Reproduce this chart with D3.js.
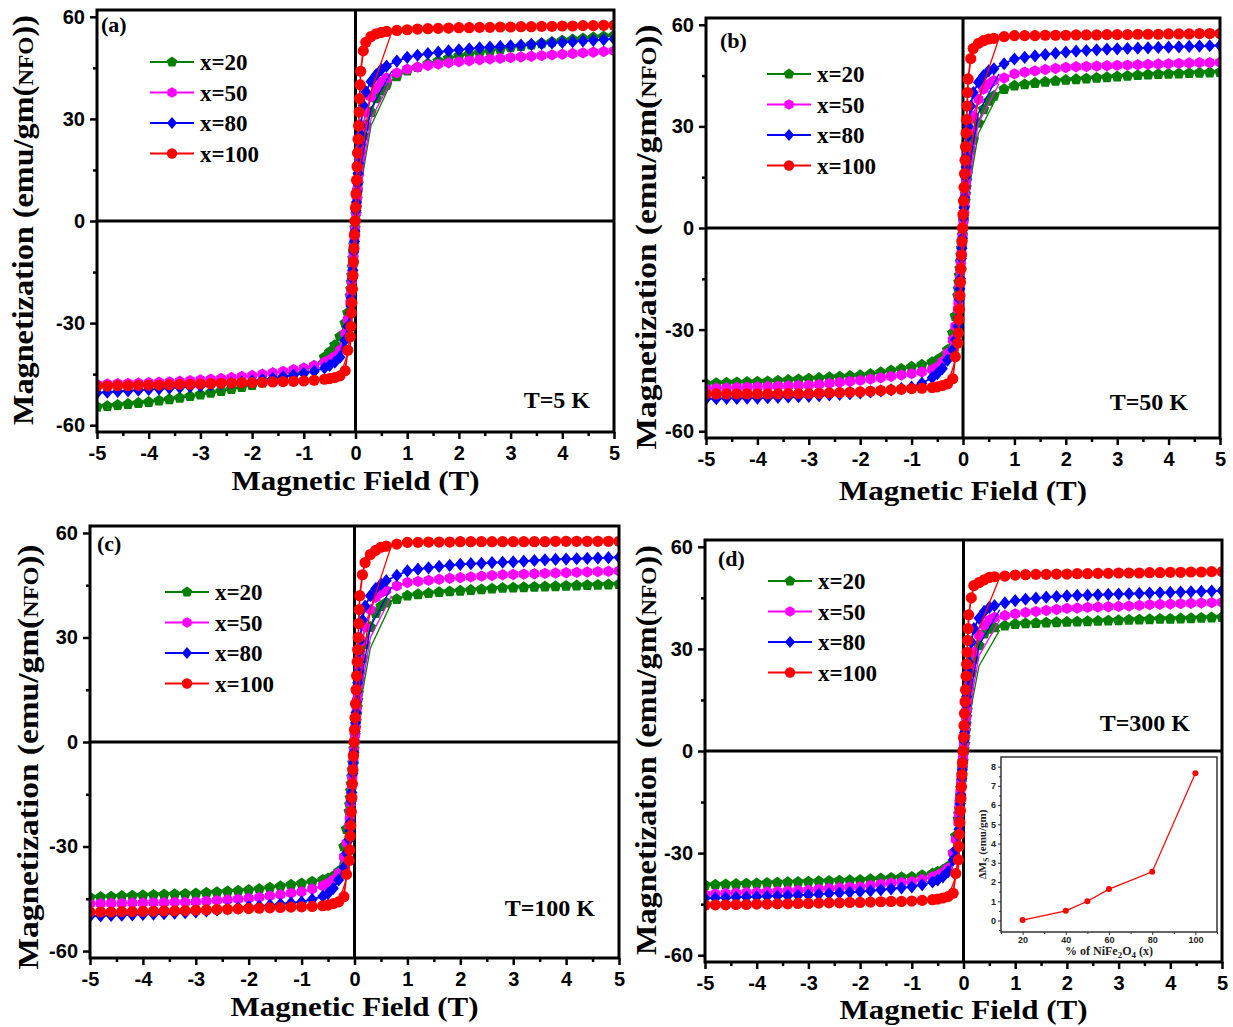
<!DOCTYPE html>
<html>
<head>
<meta charset="utf-8">
<script src="https://cdn.jsdelivr.net/npm/d3@7"></script>
<style>
  body { margin: 0; background: #fff; }
  .tick text { font-family: "Liberation Sans", Arial, sans-serif; font-weight: bold; }
</style>
</head>
<body>
<div id="chart"></div>
<script>
// field sweep (T), descending branch
const fieldT = [5,4.8,4.6,4.4,4.2,4,3.8,3.6,3.4,3.2,3,2.8,2.6,2.4,2.2,2,1.8,1.6,1.4,1.2,1,
  0.8,0.6,0.5,0.4,0.3,0.2,0.15,0.1,
  0.09,0.08,0.07,0.06,0.05,0.04,0.03,0.02,0.01,0,-0.01,-0.02,-0.03,-0.04,-0.05,-0.06,-0.07,-0.08,-0.09,
  -0.1,-0.15,-0.2,-0.3,-0.4,-0.5,-0.6,-0.8,
  -1,-1.2,-1.4,-1.6,-1.8,-2,-2.2,-2.4,-2.6,-2.8,-3,-3.2,-3.4,-3.6,-3.8,-4,-4.2,-4.4,-4.6,-4.8,-5];

// sparse return sweep (thin lines near the knee)
const returnField = [-0.3, -0.1, 0.1, 0.3, 0.7];

// (a) T = 5 K
const a20 = [54.5,54.2,53.9,53.6,53.3,53.0,52.6,52.2,51.8,51.4,51.0,50.5,50.0,49.5,49.0,48.5,47.8,47.0,46.2,45.2,44.2,
  42.5,40.0,38.3,36.0,32.0,28.0,25.0,22.0,
  20,18,16,13.5,11,9,6.5,4,2,0,-2,-4.5,-7,-9,-11,-13.5,-16,-18,-20,
  -22,-27,-30,-34,-36.5,-38.5,-40,-42.5,
  -44,-45,-46,-46.8,-47.5,-48.2,-48.8,-49.4,-50,-50.5,-51,-51.5,-52,-52.4,-52.8,-53.2,-53.5,-53.8,-54.1,-54.4,-54.6];
const a50 = [50.0,49.8,49.6,49.4,49.2,49.0,48.8,48.6,48.4,48.2,48.0,47.8,47.6,47.4,47.1,46.8,46.5,46.1,45.7,45.2,44.6,
  43.5,42.0,40.8,39.0,36.5,32.0,28.0,23.0,
  21,19,17,14,12,9.5,7,5,2.5,0,-2.5,-5,-7.5,-10,-12.5,-15,-17.5,-20,-22,
  -24,-29,-33,-38,-39.8,-40.8,-41.5,-42.5,
  -43.2,-43.7,-44.2,-44.6,-45,-45.4,-45.7,-46,-46.3,-46.5,-46.7,-46.9,-47.1,-47.3,-47.4,-47.5,-47.6,-47.7,-47.8,-47.9,-48];
const a80 = [53.5,53.3,53.1,52.9,52.7,52.5,52.3,52.1,51.9,51.7,51.5,51.3,51.1,50.9,50.6,50.3,50.0,49.6,49.2,48.7,48.1,
  47.0,45.5,44.5,43.0,41.0,38.0,34.0,28.0,
  25.5,23,20,17,14,11,8.5,5.5,3,0,-3,-6,-9,-12,-14.5,-17,-20,-22.5,-25,
  -27,-31,-35,-40,-41.5,-42.4,-43.2,-44.2,
  -44.8,-45.3,-45.8,-46.2,-46.6,-47,-47.3,-47.6,-47.9,-48.2,-48.5,-48.7,-48.9,-49.1,-49.3,-49.5,-49.7,-49.9,-50.1,-50.3,-50.5];
const a100 = [57.5,57.5,57.4,57.4,57.3,57.3,57.2,57.2,57.1,57.1,57.0,57.0,56.9,56.9,56.8,56.8,56.7,56.6,56.5,56.4,56.2,
  56.0,55.7,55.4,55.0,54.2,52.5,50.0,44.0,
  40,36,32,28,24,20,16,12,8,4,0,-4,-8,-12,-16,-20,-24,-27,-31,
  -34,-38,-44,-45.5,-46,-46.3,-46.5,-46.8,
  -47,-47.1,-47.2,-47.3,-47.4,-47.5,-47.5,-47.6,-47.7,-47.8,-47.9,-48,-48,-48.1,-48.2,-48.2,-48.3,-48.4,-48.4,-48.5,-48.5];

// (b) T = 50 K
const b20 = [46.0,45.9,45.8,45.7,45.6,45.5,45.4,45.3,45.1,44.9,44.7,44.5,44.3,44.1,43.9,43.7,43.4,43.1,42.8,42.4,42.0,
  41.0,39.0,37.5,35.0,31.0,26.0,23.0,20.0,
  18,16,14,12,10,8,6,4,2,0,-2,-4,-6,-8,-10,-12,-14,-16,-18,
  -20,-26,-31,-36,-38,-39,-39.6,-40.4,
  -41,-41.6,-42.1,-42.6,-43.1,-43.5,-43.7,-43.9,-44.1,-44.3,-44.5,-44.7,-44.9,-45.1,-45.3,-45.4,-45.5,-45.6,-45.7,-45.8,-46];
const b50 = [48.9,48.8,48.8,48.7,48.6,48.5,48.4,48.3,48.2,48.1,48.0,47.9,47.8,47.7,47.6,47.4,47.1,46.8,46.4,46.0,45.5,
  44.3,43.5,42.5,41.0,38.0,33.0,29.0,24.0,
  21.5,19,16.5,14,12,9.5,7,4.5,2,0,-2.5,-5,-7.5,-10,-12.5,-15,-17.5,-20,-22,
  -24,-29,-33,-37,-39.5,-41,-41.8,-42.5,
  -43,-43.4,-43.8,-44.2,-44.6,-45,-45.3,-45.6,-45.9,-46.2,-46.4,-46.5,-46.6,-46.7,-46.8,-46.9,-47,-47.1,-47.2,-47.3,-47.4];
const b80 = [53.9,53.8,53.7,53.6,53.5,53.4,53.3,53.2,53.1,53.0,52.9,52.8,52.6,52.4,52.2,51.9,51.6,51.2,50.8,50.4,49.9,
  48.5,47.0,46.4,45.0,43.0,40.0,36.0,30.0,
  27,24,21,18,15,12,9,6,3,0,-3,-6,-9,-12,-15,-18,-21,-24,-26.5,
  -29,-33,-36,-39,-41.5,-43,-44.2,-45.8,
  -47,-47.4,-47.8,-48.1,-48.4,-48.7,-48.9,-49.1,-49.3,-49.5,-49.7,-49.8,-49.9,-50,-50.1,-50.2,-50.2,-50.3,-50.3,-50.4,-50.4];
const b100 = [57.4,57.4,57.4,57.3,57.3,57.3,57.2,57.2,57.2,57.1,57.1,57.1,57.0,57.0,57.0,56.9,56.9,56.9,56.8,56.8,56.8,
  56.5,56.0,55.8,55.3,54.5,53.0,50.0,44.0,
  40,36,32,28,24,20,16,12,8,4,0,-4,-8,-12,-16,-20,-24,-27,-31,
  -34,-38,-44.5,-46,-46.5,-46.9,-47.1,-47.3,
  -47.4,-47.6,-47.8,-48,-48.2,-48.4,-48.5,-48.6,-48.7,-48.8,-48.9,-48.9,-48.9,-49,-49,-49,-49,-49,-49,-49,-49];

// (c) T = 100 K
const c20 = [45.3,45.2,45.1,45.0,44.9,44.8,44.7,44.6,44.5,44.4,44.3,44.2,44.0,43.8,43.6,43.4,43.2,43.0,42.7,42.4,42.0,
  41.0,40.0,39.0,37.0,33.0,28.0,24.0,20.0,
  18,16,14,12,10,8,6,4,2,0,-2,-4,-6,-8,-10,-12,-14,-16,-18,
  -20,-25,-30,-37.2,-38.5,-39.2,-39.6,-40.1,
  -40.6,-41,-41.4,-41.8,-42.2,-42.5,-42.7,-42.9,-43.1,-43.3,-43.5,-43.6,-43.7,-43.8,-43.9,-44,-44.1,-44.2,-44.4,-44.5,-44.6];
const c50 = [49.1,49.0,48.9,48.8,48.7,48.6,48.5,48.4,48.3,48.2,48.1,48.0,47.8,47.6,47.4,47.2,47.0,46.7,46.4,46.1,45.8,
  44.8,43.5,42.9,41.5,38.0,33.0,29.0,24.0,
  21.5,19,16.5,14,12,9.5,7,4.5,2,0,-2.5,-5,-7.5,-10,-12.5,-15,-17.5,-20,-22,
  -24,-29,-33,-37.7,-39.5,-40.6,-41.3,-42.2,
  -43,-43.4,-43.8,-44.2,-44.6,-44.9,-45.1,-45.3,-45.5,-45.7,-45.9,-46,-46,-46.1,-46.1,-46.2,-46.2,-46.3,-46.3,-46.4,-46.4];
const c80 = [53.0,52.9,52.8,52.7,52.6,52.5,52.4,52.3,52.1,51.9,51.7,51.6,51.5,51.3,51.2,51.0,50.7,50.4,50.0,49.6,49.1,
  47.8,46.3,45.3,44.0,42.0,39.0,35.0,29.0,
  26,23,20,17,14.5,11.5,8.5,5.5,3,0,-3,-6,-9,-12,-14.5,-17,-20,-23,-25.5,
  -28,-32,-36,-39.6,-42,-43.5,-44.3,-45.2,
  -45.9,-46.2,-46.5,-46.8,-47.1,-47.3,-47.6,-47.9,-48.2,-48.5,-48.8,-49,-49.1,-49.3,-49.4,-49.5,-49.6,-49.7,-49.8,-49.9,-50];
const c100 = [57.6,57.6,57.6,57.6,57.6,57.6,57.6,57.5,57.5,57.5,57.5,57.5,57.5,57.5,57.5,57.5,57.4,57.4,57.4,57.3,57.3,
  56.8,56.2,55.9,55.0,53.8,51.5,48.0,42.0,
  38,34,30,26.5,23,19,15,11,7,3.5,0,-4,-8,-12,-16,-20,-24,-27,-31,
  -34,-38,-44.4,-45.9,-46.4,-46.8,-47,-47.2,
  -47.3,-47.4,-47.5,-47.6,-47.7,-47.8,-47.9,-48,-48.1,-48.2,-48.3,-48.4,-48.5,-48.5,-48.6,-48.6,-48.7,-48.7,-48.8,-48.8,-48.8];

// (d) T = 300 K
const d20 = [39.3,39.2,39.1,39.0,38.9,38.8,38.8,38.7,38.6,38.5,38.4,38.3,38.2,38.1,38.0,37.9,37.8,37.7,37.6,37.5,37.3,
  36.8,36.3,35.9,34.5,31.0,27.0,23.0,18.0,
  16,14,12,10,8,6,4,2,0.5,-1,-3,-5,-7,-9,-11,-13,-15,-17,-18.5,
  -20,-25,-30,-34,-35,-35.5,-36,-36.5,
  -37,-37.1,-37.3,-37.5,-37.7,-37.9,-38,-38.1,-38.2,-38.3,-38.4,-38.5,-38.6,-38.7,-38.8,-38.9,-39,-39.1,-39.2,-39.3,-39.4];
const d50 = [43.7,43.6,43.5,43.4,43.3,43.2,43.1,43.0,42.8,42.6,42.5,42.4,42.3,42.2,42.0,41.9,41.6,41.3,41.0,40.7,40.3,
  39.8,39.3,38.5,37.0,34.0,29.0,25.0,20.0,
  18,16,14,12,10,8,6,4,2,0,-2,-4,-6,-8,-10,-12,-14,-16,-18.5,
  -21,-26,-30,-34.5,-35.7,-36.5,-37,-37.7,
  -38.4,-38.6,-38.8,-39.1,-39.5,-39.9,-40,-40.2,-40.4,-40.6,-40.9,-41,-41.1,-41.3,-41.4,-41.5,-41.6,-41.7,-41.8,-42,-42.1];
const d80 = [47.1,47.0,46.9,46.8,46.7,46.6,46.5,46.4,46.3,46.2,46.1,46.0,45.9,45.8,45.7,45.6,45.4,45.2,44.9,44.6,44.2,
  43.5,42.7,42.2,41.0,39.0,36.0,32.0,26.0,
  23.5,21,18.5,16,13.5,11,8,5.5,3,0,-3,-5.5,-8,-10.5,-13,-15.5,-18,-20.5,-23,
  -25,-29,-32,-35.5,-37,-37.9,-38.5,-39.3,
  -39.9,-40.2,-40.5,-40.8,-41.1,-41.3,-41.5,-41.7,-41.9,-42.1,-42.3,-42.4,-42.5,-42.6,-42.7,-42.8,-42.9,-43,-43.1,-43.2,-43.3];
const d100 = [52.7,52.7,52.6,52.6,52.5,52.5,52.4,52.4,52.3,52.3,52.3,52.2,52.2,52.1,52.1,52.0,52.0,51.9,51.9,51.8,51.7,
  51.4,51.2,51.0,50.3,49.5,48.6,45.0,40.0,
  36,32.5,29,25.5,22,18,14.5,11,7.5,4,0,-3.5,-7,-10.5,-14,-17.5,-21,-24.5,-28,
  -32,-36,-41.8,-42.8,-43.2,-43.5,-43.7,-43.9,
  -44.1,-44.2,-44.2,-44.3,-44.4,-44.5,-44.5,-44.6,-44.6,-44.7,-44.8,-44.8,-44.9,-44.9,-45,-45,-45.1,-45.1,-45.2,-45.2,-45.3];

// thin return sweeps
const ra20 = [-36, -24, 10, 28, 41],   ra50 = [-37, -26, 12, 30, 41.5], ra80 = [-39, -29, 16, 33, 44],   ra100 = [-45.5, -37, 18, 38, 55.5];
const rb20 = [-37, -25, 10, 28, 40],   rb50 = [-38, -27, 12, 31, 42.5], rb80 = [-40, -30, 16, 34, 45.5], rb100 = [-46, -37, 18, 38, 56];
const rc20 = [-37.5, -25, 10, 27, 40], rc50 = [-38, -27, 12, 30, 42],   rc80 = [-40, -30, 15, 33, 44.5], rc100 = [-46, -37, 18, 38, 56.5];
const rd20 = [-34.5, -23, 9, 25, 35.5], rd50 = [-35, -24, 11, 28, 38.5], rd80 = [-36, -27, 14, 31, 41.5], rd100 = [-43, -35, 16, 36, 51];

const seriesLabels = ['x=20', 'x=50', 'x=80', 'x=100'];
const seriesColors = ['#007f00', '#ff00ff', '#0000ff', '#ff0000'];
const xTicks = [-5,-4,-3,-2,-1,0,1,2,3,4,5];
const xMinor = [-4.5,-3.5,-2.5,-1.5,-0.5,0.5,1.5,2.5,3.5,4.5];
const yTicks = [-60,-30,0,30,60];
const yMinor = [-45,-15,15,45];

// inset: saturation change vs NiFe2O4 content
const insetX = [20, 40, 50, 60, 80, 100];
const insetDMs = [0.02, 0.5, 1.0, 1.63, 2.53, 7.65];
const insetXTicks = [20, 40, 60, 80, 100];
const insetXMinor = [10, 30, 50, 70, 90, 110];
const insetYTicks = [0,1,2,3,4,5,6,7,8];
const insetYMinor = [-0.5,0.5,1.5,2.5,3.5,4.5,5.5,6.5,7.5];

const serif = '"Liberation Serif", "Times New Roman", serif';

const svg = d3.select('#chart').append('svg')
    .attr('width', 1233)
    .attr('height', 1027);

// marker shapes
function polygon(n) {
    return {
        draw(ctx, size) {
            const r = Math.sqrt(size);
            for (let i = 0; i < n; i++) {
                const a = i * 2 * Math.PI / n;
                const px = r * Math.sin(a), py = -r * Math.cos(a);
                if (i) ctx.lineTo(px, py); else ctx.moveTo(px, py);
            }
            ctx.closePath();
        }
    };
}
const diamond = {
    draw(ctx, size) {
        const r = Math.sqrt(size);
        ctx.moveTo(0, -r * 1.2);
        ctx.lineTo(r, 0);
        ctx.lineTo(0, r * 1.2);
        ctx.lineTo(-r, 0);
        ctx.closePath();
    }
};
const round = {
    draw(ctx, size) {
        const r = Math.sqrt(size);
        ctx.moveTo(r, 0);
        ctx.arc(0, 0, r, 0, 2 * Math.PI);
    }
};
const shapes = [polygon(5), polygon(6), diamond, round];
const shapeR = [6.0, 5.7, 5.5, 5.6];

const panels = [
    { id: 'a', tag: '(a)', temp: 'T=5 K', series: [a20, a50, a80, a100], back: [ra20, ra50, ra80, ra100],
      l: 97, r: 614, t: 10, b: 432, legX: 150, legY: 62, tagX: 101, tagY: 32, tempX: 590, tempY: 408,
      ylabX: 33, ylabY: 220, ylabLen: 410, xlabY: 490 },
    { id: 'b', tag: '(b)', temp: 'T=50 K', series: [b20, b50, b80, b100], back: [rb20, rb50, rb80, rb100],
      l: 706, r: 1220, t: 18, b: 438, legX: 767, legY: 74, tagX: 720, tagY: 48, tempX: 1188, tempY: 410,
      ylabX: 656, ylabY: 237, ylabLen: 425, xlabY: 500 },
    { id: 'c', tag: '(c)', temp: 'T=100 K', series: [c20, c50, c80, c100], back: [rc20, rc50, rc80, rc100],
      l: 90, r: 619, t: 526, b: 958, legX: 165, legY: 592, tagX: 97, tagY: 551, tempX: 595, tempY: 916,
      ylabX: 38, ylabY: 757, ylabLen: 425, xlabY: 1016 },
    { id: 'd', tag: '(d)', temp: 'T=300 K', series: [d20, d50, d80, d100], back: [rd20, rd50, rd80, rd100],
      l: 705, r: 1222, t: 540, b: 962, legX: 768, legY: 581, tagX: 718, tagY: 566, tempX: 1190, tempY: 731,
      ylabX: 656, ylabY: 750, ylabLen: 410, xlabY: 1019 }
];

panels.forEach(drawPanel);
drawInset();

function drawPanel(p) {
    const g = svg.append('g');
    const x = d3.scaleLinear().domain([-5, 5]).range([p.l, p.r]);
    const y = d3.scaleLinear().domain([-62, 62]).range([p.b, p.t]);

    svg.append('clipPath').attr('id', 'clip-' + p.id)
        .append('rect')
        .attr('x', p.l).attr('y', p.t)
        .attr('width', p.r - p.l).attr('height', p.b - p.t);

    // zero lines
    g.append('line')
        .attr('x1', x(0)).attr('x2', x(0)).attr('y1', p.t).attr('y2', p.b)
        .attr('stroke', '#000').attr('stroke-width', 3);
    g.append('line')
        .attr('x1', p.l).attr('x2', p.r).attr('y1', y(0)).attr('y2', y(0))
        .attr('stroke', '#000').attr('stroke-width', 3);

    const plot = g.append('g').attr('clip-path', `url(#clip-${p.id})`);
    const line = d3.line()
        .defined(d => d[1] !== undefined)
        .x(d => x(d[0]))
        .y(d => y(d[1]));

    p.series.forEach((vals, i) => {
        const pts = fieldT.map((h, k) => [h, vals[k]]);
        const back = returnField.map((h, k) => [h, p.back[i][k]]);
        plot.append('path')
            .attr('d', line(back))
            .attr('fill', 'none')
            .attr('stroke', seriesColors[i])
            .attr('stroke-width', 1.3);
        plot.append('path')
            .attr('d', line(pts))
            .attr('fill', 'none')
            .attr('stroke', seriesColors[i])
            .attr('stroke-width', 1.8);
        plot.selectAll(null)
            .data(pts.filter(d => d[1] !== undefined))
            .enter()
            .append('path')
            .attr('transform', d => `translate(${x(d[0])},${y(d[1])})`)
            .attr('d', d3.symbol().type(shapes[i]).size(shapeR[i] * shapeR[i]))
            .attr('fill', seriesColors[i]);
    });

    // axes
    g.append('g')
        .attr('transform', `translate(0,${p.b})`)
        .call(d3.axisBottom(x).tickValues(xTicks).tickSize(7).tickPadding(7).tickFormat(d => String(d)));
    g.append('g')
        .attr('transform', `translate(0,${p.b})`)
        .call(d3.axisBottom(x).tickValues(xMinor).tickSize(4).tickFormat(''));
    g.append('g')
        .attr('transform', `translate(${p.l},0)`)
        .call(d3.axisLeft(y).tickValues(yTicks).tickSize(7).tickPadding(5).tickFormat(d => String(d)));
    g.append('g')
        .attr('transform', `translate(${p.l},0)`)
        .call(d3.axisLeft(y).tickValues(yMinor).tickSize(4).tickFormat(''));
    g.selectAll('.domain').remove();
    g.selectAll('.tick line').attr('stroke', '#000').attr('stroke-width', 2.5);
    g.selectAll('.tick text').style('font-size', '20px').attr('fill', '#000');

    // frame
    g.append('rect')
        .attr('x', p.l).attr('y', p.t)
        .attr('width', p.r - p.l).attr('height', p.b - p.t)
        .attr('fill', 'none')
        .attr('stroke', '#000')
        .attr('stroke-width', 3);

    // titles
    g.append('text')
        .attr('x', (p.l + p.r) / 2)
        .attr('y', p.xlabY)
        .attr('text-anchor', 'middle')
        .attr('textLength', 248)
        .attr('lengthAdjust', 'spacingAndGlyphs')
        .style('font-family', serif)
        .style('font-weight', 'bold')
        .style('font-size', '27px')
        .text('Magnetic Field (T)');

    const yl = g.append('text')
        .attr('transform', `translate(${p.ylabX},${p.ylabY}) rotate(-90)`)
        .attr('text-anchor', 'middle')
        .attr('textLength', p.ylabLen)
        .attr('lengthAdjust', 'spacingAndGlyphs')
        .style('font-family', serif)
        .style('font-weight', 'bold')
        .style('font-size', '29px');
    yl.append('tspan').text('Magnetization (emu/gm(');
    yl.append('tspan').style('font-size', '21px').text('NFO');
    yl.append('tspan').text('))');

    g.append('text')
        .attr('x', p.tagX).attr('y', p.tagY)
        .style('font-family', serif)
        .style('font-weight', 'bold')
        .style('font-size', '22px')
        .text(p.tag);

    g.append('text')
        .attr('x', p.tempX).attr('y', p.tempY)
        .attr('text-anchor', 'end')
        .style('font-family', serif)
        .style('font-weight', 'bold')
        .style('font-size', '24px')
        .text(p.temp);

    // legend
    seriesLabels.forEach((lab, i) => {
        const ly = p.legY + i * 30.5;
        g.append('line')
            .attr('x1', p.legX).attr('x2', p.legX + 44)
            .attr('y1', ly).attr('y2', ly)
            .attr('stroke', seriesColors[i])
            .attr('stroke-width', 1.8);
        g.append('path')
            .attr('transform', `translate(${p.legX + 22},${ly})`)
            .attr('d', d3.symbol().type(shapes[i]).size(shapeR[i] * shapeR[i] * 0.85))
            .attr('fill', seriesColors[i]);
        g.append('text')
            .attr('x', p.legX + 50)
            .attr('y', ly + 8)
            .style('font-family', serif)
            .style('font-weight', 'bold')
            .style('font-size', '23px')
            .text(lab);
    });
}

function drawInset() {
    const box = { l: 1001, r: 1217, t: 757, b: 932 };
    const g = svg.append('g');
    const x = d3.scaleLinear().domain([10, 110]).range([box.l, box.r]);
    const y = d3.scaleLinear().domain([-0.6, 8.5]).range([box.b, box.t]);

    g.append('rect')
        .attr('x', box.l).attr('y', box.t)
        .attr('width', box.r - box.l).attr('height', box.b - box.t)
        .attr('fill', '#fff');

    const line = d3.line().x((d, i) => x(insetX[i])).y(d => y(d));
    g.append('path')
        .attr('d', line(insetDMs))
        .attr('fill', 'none')
        .attr('stroke', '#ff0000')
        .attr('stroke-width', 1.2);
    g.selectAll(null)
        .data(insetDMs)
        .enter()
        .append('circle')
        .attr('cx', (d, i) => x(insetX[i]))
        .attr('cy', d => y(d))
        .attr('r', 3)
        .attr('fill', '#ff0000');

    g.append('g')
        .attr('transform', `translate(0,${box.b})`)
        .call(d3.axisBottom(x).tickValues(insetXTicks).tickSize(3).tickPadding(2).tickFormat(d => String(d)));
    g.append('g')
        .attr('transform', `translate(0,${box.b})`)
        .call(d3.axisBottom(x).tickValues(insetXMinor).tickSize(2).tickFormat(''));
    g.append('g')
        .attr('transform', `translate(${box.l},0)`)
        .call(d3.axisLeft(y).tickValues(insetYTicks).tickSize(3).tickPadding(2).tickFormat(d => String(d)));
    g.append('g')
        .attr('transform', `translate(${box.l},0)`)
        .call(d3.axisLeft(y).tickValues(insetYMinor).tickSize(2).tickFormat(''));
    g.selectAll('.domain').remove();
    g.selectAll('.tick line').attr('stroke', '#333').attr('stroke-width', 1);
    g.selectAll('.tick text').style('font-size', '9px').attr('fill', '#222');

    g.append('rect')
        .attr('x', box.l).attr('y', box.t)
        .attr('width', box.r - box.l).attr('height', box.b - box.t)
        .attr('fill', 'none')
        .attr('stroke', '#333')
        .attr('stroke-width', 1.5);

    const xt = g.append('text')
        .attr('x', (box.l + box.r) / 2)
        .attr('y', 955)
        .attr('text-anchor', 'middle')
        .style('font-family', serif)
        .style('font-weight', 'bold')
        .style('font-size', '12px')
        .attr('fill', '#222');
    xt.append('tspan').text('% of NiFe');
    xt.append('tspan').attr('dy', 3).style('font-size', '9px').text('2');
    xt.append('tspan').attr('dy', -3).text('O');
    xt.append('tspan').attr('dy', 3).style('font-size', '9px').text('4');
    xt.append('tspan').attr('dy', -3).text(' (x)');

    const yt = g.append('text')
        .attr('transform', `translate(986,${(box.t + box.b) / 2}) rotate(-90)`)
        .attr('text-anchor', 'middle')
        .style('font-family', serif)
        .style('font-weight', 'bold')
        .style('font-size', '11px')
        .attr('fill', '#222');
    yt.append('tspan').text('ΔM');
    yt.append('tspan').attr('dy', 3).style('font-size', '8px').text('S');
    yt.append('tspan').attr('dy', -3).text(' (emu/gm)');
}
</script>
</body>
</html>
